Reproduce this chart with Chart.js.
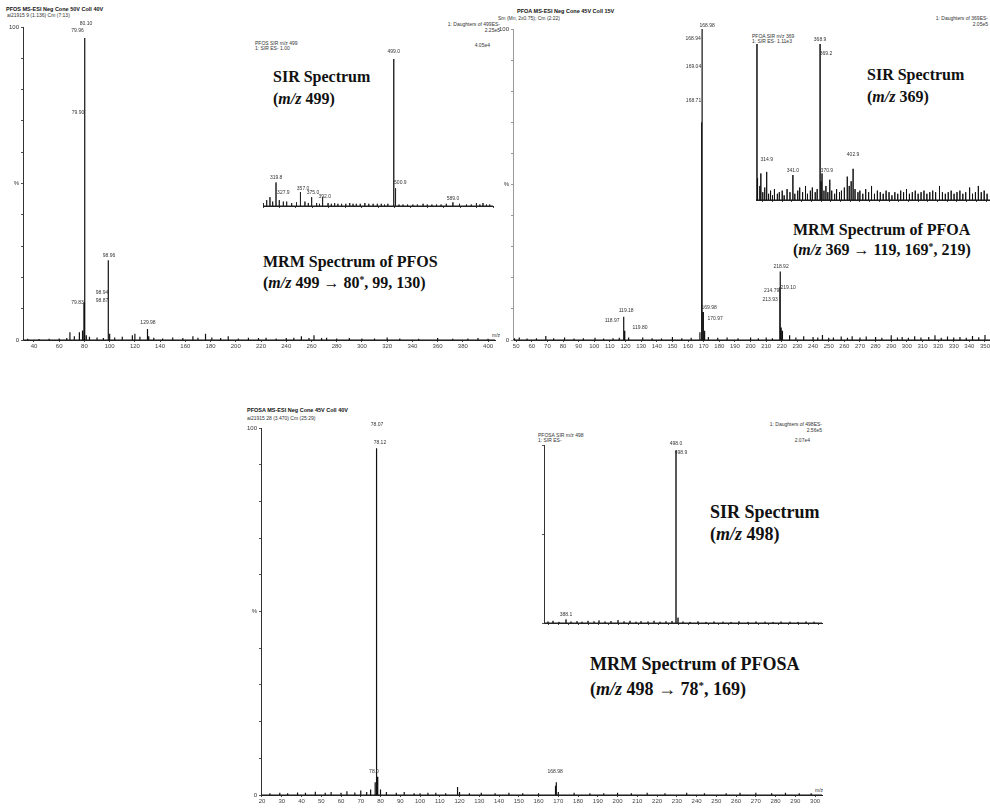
<!DOCTYPE html>
<html>
<head>
<meta charset="utf-8">
<title>MRM and SIR spectra of PFOS, PFOA and PFOSA</title>
<script src="https://cdn.jsdelivr.net/npm/chart.js@4.4.1/dist/chart.umd.min.js"></script>
<style>
  html, body { margin: 0; padding: 0; background: #fff; }
  body { position: relative; width: 990px; height: 809px; overflow: hidden; font-family: "Liberation Sans", Arial, sans-serif; }
  canvas { position: absolute; }
  .t { position: absolute; white-space: nowrap; color: #333; font-size: 5px; line-height: 5px; }
  .hd { font-size: 5.5px; line-height: 6px; font-weight: bold; color: #111; }
  .big { position: absolute; white-space: nowrap; font-family: "Liberation Serif", "Times New Roman", serif; font-weight: bold; font-size: 16px; line-height: 16px; color: #111; }
  .big.lg { font-size: 18px; line-height: 18px; }
  .big sup { font-size: 60%; line-height: 0; vertical-align: 0.55em; }
</style>
</head>
<body>

<!-- instrument headers -->
<div class="t hd" style="left:6px;top:6px">PFOS MS-ESI Neg Cone 50V Coll 40V</div>
<div class="t" style="left:7px;top:13px">ai21915 9 (1.136) Cm (7:13)</div>
<div class="t" style="right:490px;top:22px">1: Daughters of 499ES-</div>
<div class="t" style="right:490px;top:28px">2.25e5</div>
<div class="t" style="left:492px;top:333px">m/z</div>

<div class="t hd" style="left:517px;top:8px">PFOA MS-ESI Neg Cone 45V Coll 15V</div>
<div class="t" style="left:498px;top:16px">Sm (Mn, 2x0.75); Cm (2:22)</div>
<div class="t" style="right:2px;top:16px">1: Daughters of 369ES-</div>
<div class="t" style="right:2px;top:22px">2.05e5</div>

<div class="t hd" style="left:247px;top:407px">PFOSA MS-ESI Neg Cone 45V Coll 40V</div>
<div class="t" style="left:247px;top:416px">ai21915 28 (3.470) Cm (25:29)</div>
<div class="t" style="right:168px;top:422px">1: Daughters of 498ES-</div>
<div class="t" style="right:168px;top:428px">2.56e5</div>
<div class="t" style="left:815px;top:788px">m/z</div>

<!-- inset headers -->
<div class="t" style="left:255px;top:41px">PFOS SIR m/z 499</div>
<div class="t" style="left:255px;top:46px">1: SIR ES- 1.00</div>
<div class="t" style="right:500px;top:43px">4.05e4</div>
<div class="t" style="left:752px;top:34px">PFOA SIR m/z 369</div>
<div class="t" style="left:752px;top:39px">1: SIR ES- 1.11e3</div>
<div class="t" style="left:538px;top:433px">PFOSA SIR m/z 498</div>
<div class="t" style="left:538px;top:438px">1: SIR ES-</div>
<div class="t" style="right:180px;top:438px">2.07e4</div>

<!-- annotations -->
<div class="big" style="left:273px;top:69px">SIR Spectrum</div>
<div class="big" style="left:273px;top:91px">(<i>m/z</i> 499)</div>
<div class="big" style="left:263px;top:254px">MRM Spectrum of PFOS</div>
<div class="big" style="left:263px;top:275px">(<i>m/z</i> 499 → 80<sup>*</sup>, 99, 130)</div>

<div class="big" style="left:867px;top:67px">SIR Spectrum</div>
<div class="big" style="left:867px;top:89px">(<i>m/z</i> 369)</div>
<div class="big" style="left:793px;top:222px">MRM Spectrum of PFOA</div>
<div class="big" style="left:793px;top:242px">(<i>m/z</i> 369 → 119, 169<sup>*</sup>, 219)</div>

<div class="big lg" style="left:710px;top:503px">SIR Spectrum</div>
<div class="big lg" style="left:710px;top:525px">(<i>m/z</i> 498)</div>
<div class="big lg" style="left:590px;top:655px">MRM Spectrum of PFOSA</div>
<div class="big lg" style="left:590px;top:680px">(<i>m/z</i> 498 → 78<sup>*</sup>, 169)</div>

<script>
// ---------------- data ----------------
// peaks are [m/z, % of base peak]; tags are [m/z, %, text] for the peak labels

// PFOS, MRM m/z 499
var pfosPeaks = [[35,0.4],[44,0.3],[52,0.4],[60,0.5],[66,0.6],[68.5,2.5],[72,1.2],[76,2.5],[78.5,3],[79.6,12],
  [80,96.5],[80.4,72],[81.5,1.5],[84,1],[90,0.8],[95,0.6],[98.8,15],[99,25.5],[100,2],[104,0.8],[110,1],
  [118,1.5],[120,2],[124,1],[130,3.5],[131,1.2],[135,0.7],[142,0.5],[150,0.8],[158,0.6],[166,1.2],[170,0.7],
  [176,2],[181,0.8],[188,0.6],[194,1.2],[202,0.5],[210,0.7],[218,0.6],[224,0.7],[232,0.5],[240,0.6],[246,0.7],
  [252,1.2],[258,0.6],[262,1.5],[268,0.6],[272,0.7],[280,0.5],[290,0.6],[300,0.5],[310,0.5],[320,0.8],
  [330,0.5],[345,0.4],[360,0.6],[372,0.4],[384,0.5],[392,0.6],[400,0.4]];
var pfosTags = [[81.2,101,'80.10'],[74.5,98.7,'79.96'],[74.9,72.8,'79.90'],[74.5,11.8,'79.83'],
  [99.5,26.8,'98.96'],[93.9,15,'98.94'],[93.9,12.5,'98.87'],[130.4,5.4,'129.98']];
var pfosXTicks = [40,60,80,100,120,140,160,180,200,220,240,260,280,300,320,340,360,380,400];

// PFOA, MRM m/z 369
var pfoaPeaks = [[49,0.6],[52,0.8],[57,0.5],[63,0.6],[69,1.3],[74,0.6],[81,0.8],[87,0.5],[93,0.6],[100.5,0.7],
  [106,0.5],[112,0.6],[116,0.7],[118.6,5],[119,7.5],[119.5,3],[122,0.8],[131,0.8],[137,0.6],[143,0.5],[150,1],
  [156,0.6],[162,0.7],[167.6,2.5],[168.7,70],[169,100],[169.8,9],[170.6,3],[173,1],[179,0.7],[185,0.8],
  [192,0.6],[200,0.8],[205,0.6],[210,0.8],[214,0.6],[218.7,17],[219,22],[219.6,4],[220.4,3],[225,1.5],
  [229,0.8],[234,1.2],[240,1],[243,0.8],[246,1.6],[250,0.7],[253,0.8],[258,1.1],[262,0.7],[265,1.2],
  [270,0.8],[274,1.1],[280,1],[284,0.7],[290,1.5],[294,0.8],[297,1],[301,0.7],[305,1.2],[309,0.8],[314,1],
  [318,1.5],[322,0.7],[326,1.1],[330,0.8],[334,1],[338,0.7],[342,1.3],[346,0.9],[350,1.6]];
var pfoaTags = [[172.2,101,'168.98'],[163.3,96.8,'168.94'],[163.5,88,'169.04'],[163.5,77,'168.71'],
  [173.5,10.3,'169.98'],[177.3,7,'170.97'],[120.4,9.5,'119.18'],[111.4,6.1,'118.97'],[129.3,3.9,'119.80'],
  [219.5,23.5,'218.92'],[224,17,'219.10'],[213.5,16,'214.79'],[212.5,12.9,'213.93']];
var pfoaXTicks = [50,60,70,80,90,100,110,120,130,140,150,160,170,180,190,200,210,220,230,240,250,
  260,270,280,290,300,310,320,330,340,350];

// PFOSA, MRM m/z 498
var pfosaPeaks = [[24,0.5],[29,0.6],[33,0.5],[38,0.7],[42,0.6],[47,0.9],[52,0.6],[55,0.8],[60,0.6],[63,1],
  [67,0.7],[70,1.2],[73,0.8],[75,1.5],[77.3,3.5],[78,94.5],[78.6,5],[80,1.5],[83,0.8],[88,0.6],[92,0.8],
  [97,0.5],[100,0.5],[104,0.6],[108,0.6],[113,0.5],[119,2.2],[120,0.8],[125,0.5],[131,0.6],[138,0.5],
  [145,0.6],[152,0.5],[160,0.5],[168.6,2.5],[169,3.5],[170,0.8],[178,0.6],[186,0.5],[193,0.5],[200,0.6],
  [207,0.5],[215,0.6],[224,0.5],[235,0.6],[244,0.5],[255,0.5],[262,0.6],[270,0.6],[278,0.5],[285,0.6],
  [292,0.5],[298,0.5]];
var pfosaTags = [[78.2,100.8,'78.07'],[79.7,96,'78.12'],[168.4,6.3,'168.98'],[76.7,6.3,'78.0']];
var pfosaXTicks = [20,30,40,50,60,70,80,90,100,110,120,130,140,150,160,170,180,190,200,210,220,
  230,240,250,260,270,280,290,300];

// SIR insets
var sir499Peaks = [[300.5,2],[305.6,4],[310.6,6],[314.7,3],[319.8,16],[324.8,4],[331,3],[336,3],[343.6,2],
  [351,2.5],[357,9.5],[363.8,3],[369,2],[374,6],[381.6,2],[386,1.5],[390.7,6],[399,2],[404,1.5],[409,2],
  [414,1.5],[419.6,1.5],[426,1.5],[432,2],[437,1.5],[442,1.5],[448,1.5],[455,2],[461,1.5],[467.6,1.5],
  [474,1.5],[480,1.5],[485,1],[490,1.5],[499,100],[501.7,12],[507,1],[513,1],[520,1],[528,1],[535,1],
  [543.6,1.5],[550,1],[557,1],[564,1],[571,1],[579,1.5],[589,2.5],[599,1.5],[609.6,1],[617,1],
  [624.8,2],[630,1],[634.8,2],[640,1],[645,1]];
var sir499Tags = [[499,105,'499.0'],[320,19,'319.8'],[331,9,'327.9'],[361,12,'357.0'],[376,9,'375.0'],
  [394,6.5,'392.0'],[509,16,'500.9'],[589,5,'589.0']];
var sir499XTicks = [300,325,350,375,400,425,450,475,500,525,550,575,600,625,650];

var sir369Peaks = [[304,100],[304.6,14],[307,9],[308,17],[310,5],[312,8],[314,18],[316,4],[318,6],[320,3],
  [322,7],[325,4],[327,5],[330,6],[332,3],[335,7],[338,5],[341,16],[343,4],[346,6],[348,8],[351,5],[354,9],
  [356,4],[359,6],[361,8],[364,5],[366,7],[369,100],[370,12],[371,17],[373,6],[375,9],[377,5],[379,13],
  [381,6],[384,4],[386,7],[389,5],[391,6],[394,8],[397,15],[399,9],[401,12],[403,20],[405,7],[408,5],
  [410,6],[413,4],[416,7],[419,5],[422,9],[425,4],[428,6],[431,5],[434,4],[437,6],[440,5],[443,3],[446,5],
  [449,4],[452,6],[455,5],[458,7],[461,4],[464,5],[467,6],[470,4],[473,5],[476,6],[479,4],[482,5],[485,6],
  [488,5],[492,9],[495,5],[498,4],[501,5],[504,6],[507,4],[510,5],[513,6],[516,4],[519,5],[523,8],[526,4],
  [529,5],[532,9],[535,5],[538,6],[541,4]];
var sir369Tags = [[369,102.5,'368.9'],[375,94,'369.2'],[314,25.6,'314.9'],[341,19,'341.0'],
  [403,29,'402.9'],[376,19,'370.9']];
var sir369XTicks = [310,320,330,340,350,360,370,380,390,400,410,420,430,440,450,460,470,480,490,
  500,510,520,530,540];

var sir498Peaks = [[370,0.8],[375,1.2],[381,0.6],[388,2],[393,0.8],[399,1],[404,0.7],[410,1.2],[416,0.9],
  [421,1.4],[427,0.8],[433,1.1],[440,1.6],[446,0.9],[452,1.2],[458,0.7],[463,1],[470,0.8],[476,1.2],
  [482,0.7],[488,0.9],[494,1.1],[498,97],[500,3],[505,0.8],[512,0.6],[520,0.9],[528,0.6],[536,0.8],
  [545,0.7],[553,0.6],[561,0.9],[570,0.6],[578,0.8],[587,0.7],[595,0.6],[603,0.8],[612,0.7],[620,0.6],
  [628,0.8],[636,0.7]];
var sir498Tags = [[498,101,'498.0'],[503,95.5,'498.9'],[388,4.5,'388.1']];
var sir498XTicks = [370,380,390,400,410,420,430,440,450,460,470,480,490,500,510,520,530,540,550,
  560,570,580,590,600,610,620,630,640];

var mainYTicks = [0,10,20,30,40,50,60,70,80,90,100];
var mainYText = {0: '0', 50: '%', 100: '100'};
var insetYTicks = [0,50,100];


// ---------------- helpers ----------------

// stick spectrum: every peak is a vertical line up from the baseline
function sticks(peaks, lo, hi) {
  var pts = [{x: lo, y: 0}];
  peaks.forEach(function(p) {
    pts.push({x: p[0], y: 0}, {x: p[0], y: p[1]}, {x: p[0], y: 0});
  });
  pts.push({x: hi, y: 0});
  return pts;
}

var FONT = '"Liberation Sans", Arial, sans-serif';

var peakTagPlugin = {
  id: 'peakTags',
  afterDatasetsDraw: function(chart) {
    var tags = chart.data.datasets[0].tags || [];
    var ctx = chart.ctx, xs = chart.scales.x, ys = chart.scales.y;
    ctx.save();
    ctx.font = '5px ' + FONT;
    ctx.fillStyle = '#333';
    ctx.textAlign = 'center';
    ctx.textBaseline = 'middle';
    tags.forEach(function(t) {
      ctx.fillText(t[2], xs.getPixelForValue(t[0]), ys.getPixelForValue(t[1]));
    });
    ctx.restore();
  }
};

// o.x/o.y/o.w/o.h = plot area on the page; pl/pt/pr/pb = room around it
function spectrum(o) {
  var w = o.w + o.pl + o.pr, h = o.h + o.pt + o.pb;
  var cv = document.createElement('canvas');
  cv.width = w; cv.height = h;
  cv.style.left = (o.x - o.pl) + 'px';
  cv.style.top = (o.y - o.pt) + 'px';
  document.body.appendChild(cv);

  return new Chart(cv, {
    type: 'line',
    data: {
      datasets: [{
        data: sticks(o.peaks, o.xmin, o.xmax),
        tags: o.tags,
        borderColor: o.color || '#111',
        borderWidth: o.lw || 1,
        pointRadius: 0,
        tension: 0,
        fill: false
      }]
    },
    options: {
      responsive: false,
      animation: false,
      events: [],
      layout: { padding: { left: 0, right: o.pr, top: o.pt, bottom: 0 } },
      plugins: { legend: { display: false }, tooltip: { enabled: false } },
      scales: {
        x: {
          type: 'linear', min: o.xmin, max: o.xmax,
          afterBuildTicks: function(s) { s.ticks = o.xticks.map(function(v) { return {value: v}; }); },
          afterFit: function(s) { s.height = o.pb; s.paddingLeft = 0; s.paddingRight = 0; },
          ticks: {
            display: o.xlabels !== false, autoSkip: false, maxRotation: 0, padding: 1,
            font: { family: FONT, size: 6 }, color: '#444',
            callback: function(v) { return String(v); }
          },
          grid: { drawOnChartArea: false, drawTicks: true, tickLength: 2, color: '#444' },
          border: { display: true, color: '#222', width: 1 }
        },
        y: {
          type: 'linear', min: 0, max: 100,
          afterBuildTicks: function(s) { s.ticks = o.yticks.map(function(v) { return {value: v}; }); },
          afterFit: function(s) { s.width = o.pl; s.paddingTop = 0; s.paddingBottom = 0; },
          ticks: {
            display: !!o.ytext, padding: 2, font: { family: FONT, size: 6 }, color: '#333',
            callback: function(v) { return (o.ytext && o.ytext[v]) || ''; }
          },
          grid: { display: o.yaxis !== false, drawOnChartArea: false, tickLength: 2, color: o.ycolor || '#555' },
          border: { display: o.yaxis !== false, color: o.ycolor || '#333', width: 1, dash: o.ydash || [] }
        }
      }
    },
    plugins: [peakTagPlugin]
  });
}


// ---------------- main MRM spectra ----------------

spectrum({ x: 23, y: 27, w: 472, h: 313, pl: 23, pt: 12, pr: 5, pb: 14,
  xmin: 31.3, xmax: 405.5, xticks: pfosXTicks, yticks: mainYTicks, ytext: mainYText,
  peaks: pfosPeaks, tags: pfosTags, lw: 1.2, ydash: [5, 2] });

spectrum({ x: 513, y: 29, w: 477, h: 311, pl: 18, pt: 14, pr: 0, pb: 14,
  xmin: 48, xmax: 353.2, xticks: pfoaXTicks, yticks: mainYTicks, ytext: mainYText,
  peaks: pfoaPeaks, tags: pfoaTags, lw: 1.2, ydash: [2, 6], ycolor: '#999' });

spectrum({ x: 261, y: 428, w: 561, h: 367, pl: 26, pt: 14, pr: 8, pb: 14,
  xmin: 19.5, xmax: 303.5, xticks: pfosaXTicks, yticks: mainYTicks, ytext: mainYText,
  peaks: pfosaPeaks, tags: pfosaTags, lw: 1.2, ydash: [5, 3] });

// ---------------- SIR insets ----------------

spectrum({ x: 263, y: 59, w: 230, h: 147, pl: 4, pt: 12, pr: 4, pb: 6,
  xmin: 300, xmax: 650, xticks: sir499XTicks, xlabels: false, yticks: insetYTicks, yaxis: false,
  peaks: sir499Peaks, tags: sir499Tags, color: '#222' });

spectrum({ x: 756, y: 44, w: 234, h: 156, pl: 4, pt: 12, pr: 0, pb: 6,
  xmin: 303, xmax: 544, xticks: sir369XTicks, xlabels: false, yticks: insetYTicks, yaxis: false,
  peaks: sir369Peaks, tags: sir369Tags, color: '#111' });

spectrum({ x: 544, y: 445, w: 278, h: 178, pl: 4, pt: 12, pr: 4, pb: 6,
  xmin: 366, xmax: 644, xticks: sir498XTicks, xlabels: false, yticks: insetYTicks, ydash: [4, 3],
  peaks: sir498Peaks, tags: sir498Tags, color: '#222' });
</script>
</body>
</html>
